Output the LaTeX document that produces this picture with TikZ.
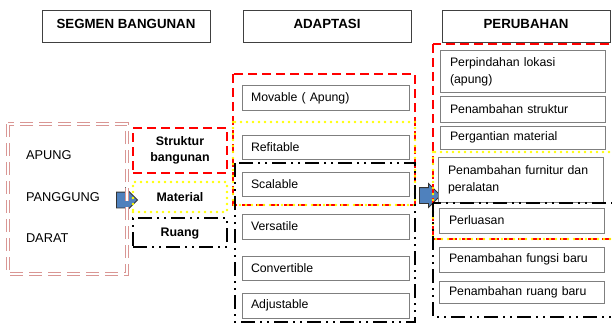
\documentclass[tikz,border=0pt]{standalone}
\usepackage{fontspec}
\setmainfont{Liberation Sans}
\usepackage{xcolor}
\usepackage{tikz}
\usetikzlibrary{positioning, shapes.arrows}
\definecolor{merahgaris}{HTML}{FF0000}
\definecolor{kuninggaris}{HTML}{FFFF00}
\definecolor{merahmuda}{HTML}{D99694}
\definecolor{birupanah}{HTML}{4F81BD}
\definecolor{abukotak}{HTML}{7F7F7F}
\tikzset{
  judul/.style={draw=black!75, line width=0.9pt, minimum width=168pt, minimum height=32pt, font=\fontsize{13.3}{15}\selectfont\bfseries, text height=10pt, text depth=5pt},
  kotak/.style={draw=abukotak, line width=1pt, fill=white, align=left, text width=149pt, inner xsep=9pt, inner ysep=0pt, font=\fontsize{12.3}{17}\selectfont},
  kotakkanan/.style={kotak, text width=145pt, inner xsep=10pt},
  garismerah/.style={draw=merahgaris, line width=2.2pt, dash pattern=on 9pt off 5pt},
  gariskuning/.style={draw=kuninggaris, line width=2.6pt, line cap=round, dash pattern=on 0pt off 6pt},
  garishitam/.style={draw=black, line width=2pt, dash pattern=on 14pt off 5pt on 2pt off 5pt on 2pt off 5pt},
  bingkaipink/.style={draw=merahmuda, line width=1pt, double=white, double distance=1.6pt, dash pattern=on 13pt off 6pt},
  segmen/.style={minimum width=94pt, align=center, inner sep=0pt, font=\fontsize{12.4}{16}\selectfont\bfseries},
  segmenmerah/.style={segmen, garismerah, minimum height=45pt},
  segmenkuning/.style={segmen, gariskuning, minimum height=30pt},
  segmenhitam/.style={segmen, garishitam, minimum height=29pt},
  tipe/.style={anchor=west, inner sep=0pt, font=\fontsize{12.8}{15}\selectfont},
  panah/.style={single arrow, draw=black!80, line width=0.8pt, fill=birupanah, minimum height=21pt, inner xsep=0pt, inner ysep=7.5pt, single arrow head extend=4pt},
}

\begin{document}
\begin{tikzpicture}[x=1pt, y=-1pt, every node/.style={outer sep=0pt}]
  \clip (0,0) rectangle (612,326);
  \node[judul] (segmenjudul) at (126,26) {SEGMEN BANGUNAN};
  \node[judul, right=33pt of segmenjudul] (adaptasijudul) {ADAPTASI};
  \node[judul, right=31pt of adaptasijudul] (perubahanjudul) {PERUBAHAN};

  \node[panah] (panahkiri) at (123,200) {};
  \node[panah] (panahkanan) at (426,195.5) {};

  \node[tipe] (apung) at (26,155) {APUNG};
  \node[tipe] (panggung) at (26,197) {PANGGUNG};
  \node[tipe] (darat) at (26,238) {DARAT};
  \draw[bingkaipink] (8,124) rectangle (127,274);

  \node[segmenmerah] (struktur) at (180,150.5) {Struktur\\bangunan};
  \node[segmenkuning, below=9pt of struktur] (material) {Material};
  \node[segmenhitam, below=6pt of material, text depth=0pt] (ruang) {Ruang};

  \node[kotak, minimum height=24pt] (movable) at (325.5,98) {Movable ( Apung)};
  \node[kotak, minimum height=24pt, below=25pt of movable] (refitable) {Refitable};
  \node[kotak, minimum height=24pt, below=13pt of refitable] (scalable) {Scalable};
  \node[kotak, minimum height=25pt, below=18pt of scalable] (versatile) {Versatile};
  \node[kotak, minimum height=24pt, below=17pt of versatile] (convertible) {Convertible};
  \node[kotak, minimum height=25pt, below=13pt of convertible] (adjustable) {Adjustable};

  \node[kotakkanan, minimum height=42pt] (pindah) at (522.5,72) {Perpindahan lokasi\\(apung)};
  \node[kotakkanan, minimum height=25pt, below=4pt of pindah] (tambahstruktur) {Penambahan struktur};
  \node[kotakkanan, minimum height=23pt, below=4pt of tambahstruktur] (gantimaterial) {Pergantian material};
  \node[kotakkanan, minimum height=45pt, below=8pt of gantimaterial, xshift=-2pt] (furnitur) {Penambahan furnitur dan\\peralatan};
  \node[kotakkanan, minimum height=25pt, below=6pt of furnitur, xshift=1pt] (perluasan) {Perluasan};
  \node[kotakkanan, minimum height=25pt, below=14pt of perluasan] (fungsibaru) {Penambahan fungsi baru};
  \node[kotakkanan, minimum height=22pt, below=9pt of fungsibaru] (ruangbaru) {Penambahan ruang baru};

  \draw[garismerah] (233,74) rectangle (415,205);
  \draw[gariskuning] (233,122) rectangle (415,205);
  \draw[garishitam] (235,163) rectangle (415,322);
  \draw[garismerah] (433,44) rectangle (620,239);
  \draw[gariskuning] (433,152) rectangle (620,239);
  \draw[garishitam] (433,203) rectangle (620,317);
\end{tikzpicture}
\end{document}
